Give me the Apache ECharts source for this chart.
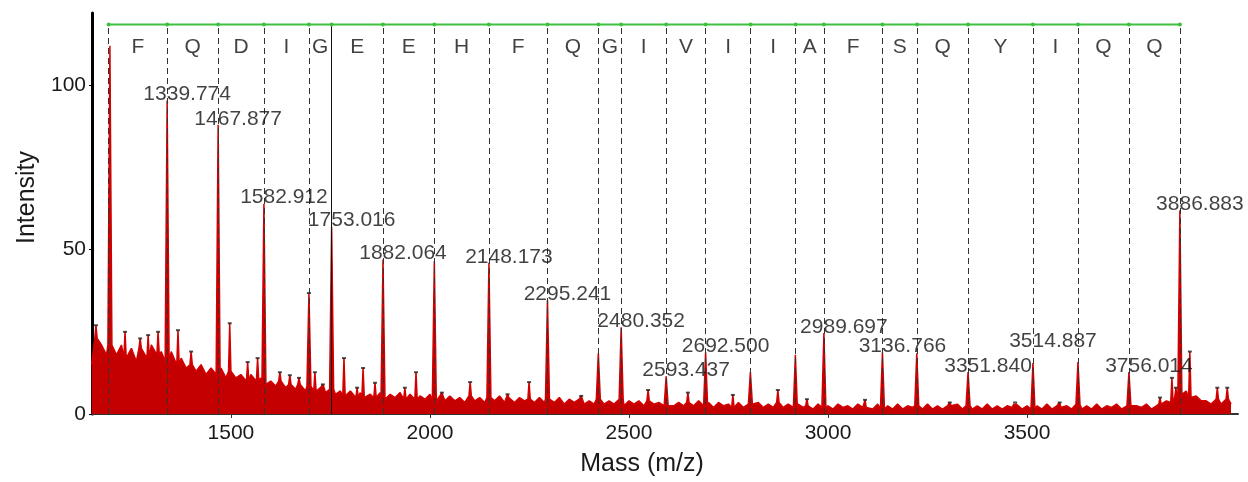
<!DOCTYPE html>
<html><head><meta charset="utf-8">
<script src="https://cdn.jsdelivr.net/npm/echarts@6/dist/echarts.min.js"></script>
<style>html,body{margin:0;padding:0;background:#fff}#c{width:1248px;height:482px}</style>
</head><body><div id="c"></div>
<script>
// ---------------- data ----------------
const xTickValues = [1500, 2000, 2500, 3000, 3500];
const yTickValues = [0, 50, 100];

// noise floor read every 12.5 m/z starting at 1150
const baselineStart = 1150, baselineStep = 12.5;
const baseline = [
 15,23,21,18,21,18,21,17,20,16,20,17,21,18,19,16,19,15,17,14,
 15,13,15,12,14,12,14,11,13,11,12,10,12,10,11,9,10,8.5,10,8,
 9,7.5,9,7,8.5,7,8,6.5,7.5,6,7,5.5,7,5,6.5,5,6,5,6.5,4.5,
 6,5,6.5,4.5,6,4.5,5.5,4.5,6,4,5.5,4,5.5,4,5,3.5,5.5,4,5,3.5,
 5,4,5.5,3.5,5,3.5,5,4,4.5,3.5,5,3.5,4.5,3.5,5,3,4.5,3.5,4.5,3,
 4,3,4.5,3,4,3,4.5,2.5,4,3,4,2.5,4,3,3.5,2.5,4,2.5,3.5,2.5,
 3.5,2.5,4,2.5,3.5,2,3.5,2.5,3,2,3.5,2,3,2.5,3.5,2,3,2,3.5,2,
 3,2,3,2,2.5,1.5,3,2,2.5,1.5,3,2,2.5,1.5,3,2,2.5,1.5,3,1.5,
 2.5,1.5,3,1.5,2.5,2,2.5,1.5,3,1.5,2.5,1.5,2.5,2,3,1.5,2.5,1.5,2.5,1.5,
 3,1.5,2.5,1.5,2.5,2,3,1.5,2.5,1.5,2.5,1.5,3,1.5,2.5,2,2.5,1.5,3,1.5,
 2.5,1.5,3,1.5,2.5,2,3,1.5,2.5,1.5,2.5,2,3,1.5,2.5,3,4,3.5,5,6,
 7,5,5.5,4,4,3,4.5,3,4.5,3
];

// main fragment peaks
const majorPeakMz  = [1196, 1339.774, 1467.877, 1582.912, 1696, 1753.016, 1882.064, 2011, 2148.173, 2295.241, 2423, 2480.352, 2593.437, 2692.500, 2805, 2918, 2989.697, 3136.766, 3223, 3351.840, 3514.887, 3628, 3756.014, 3884];
const majorPeakInt = [112, 95.4, 88, 64, 36.8, 57, 47, 46.5, 46, 34.7, 18.5, 26.4, 11.5, 18.8, 12.8, 18, 24.6, 18.8, 18.5, 12.8, 15.5, 15.8, 12.8, 62];
const peakLabels   = ['', '1339.774', '1467.877', '1582.912', '', '1753.016', '1882.064', '', '2148.173', '2295.241', '', '2480.352', '2593.437', '2692.500', '', '', '2989.697', '3136.766', '', '3351.840', '3514.887', '', '3756.014', '3886.883'];

// smaller peaks in the noise
const minorPeakMz  = [1161, 1234, 1272, 1292, 1317, 1367, 1400, 1497, 1542, 1567, 1623, 1648, 1671, 1711, 1731, 1784, 1817, 1832, 1862, 1937, 1965, 2030, 2101, 2195, 2249, 2380, 2548, 2648, 2761, 2874, 2947, 3093, 3306, 3470, 3582, 3834, 3864, 3874, 3909, 3978, 4003];
const minorPeakInt = [27, 25, 23, 24, 25, 25.5, 19, 27.6, 15.8, 17, 12.7, 11.8, 11, 12.7, 9, 17, 8, 14, 9.5, 8, 12.7, 6.5, 9.7, 6, 9.7, 5.5, 7.3, 6.5, 5.8, 7.3, 4.5, 4.3, 3.5, 3.5, 3.5, 5, 11, 8, 19, 8, 8];

// sequence ladder
const ladderMz = [1192.7, 1339.774, 1467.877, 1582.912, 1696.0, 1753.016, 1882.064, 2011.1, 2148.173, 2295.241, 2423.3, 2480.352, 2593.437, 2692.500, 2805.6, 2918.7, 2989.697, 3136.766, 3223.8, 3351.840, 3514.887, 3628.0, 3756.014, 3884.1];
const ladderResidues = ['F','Q','D','I','G','E','E','H','F','Q','G','I','V','I','I','A','F','S','Q','Y','I','Q','Q'];
const solidBoundaryMz = [1753.016];

// ---------------- layout ----------------
const LADDER_Y = 118.5, LETTER_Y = 111.5;
const FONT = "'Liberation Sans', Arial, sans-serif";
const RED = '#c40000';

function baseAt(m){
  let i = Math.round((m - baselineStart) / baselineStep);
  i = Math.max(0, Math.min(baseline.length - 1, i));
  return baseline[i];
}
const peaks = majorPeakMz.map((m,i)=>[m, majorPeakInt[i], 5])
  .concat(minorPeakMz.map((m,i)=>[m, minorPeakInt[i], 3]));
let pts = baseline.map((v,i)=>[baselineStart + i*baselineStep, v])
  .filter(p => !peaks.some(q => Math.abs(q[0]-p[0]) < q[2] + 2));
peaks.forEach(([m,h,w])=>{ const b = baseAt(m); pts.push([m-w,b],[m,h],[m+w,b]); });
pts.sort((a,b)=>a[0]-b[0]);

const labelData = [];
majorPeakMz.forEach((m,i)=>{
  if (!peakLabels[i]) return;
  const item = {value:[m, majorPeakInt[i]], name: peakLabels[i]};
  if (peakLabels[i] === '3514.887') item.label = {offset:[20,-22]};
  labelData.push(item);
});

const letterData = ladderResidues.map((r,i)=>({value:[(ladderMz[i]+ladderMz[i+1])/2, LETTER_Y], name:r}));

const markerData = minorPeakMz.map((m,i)=>[m, minorPeakInt[i]]).concat([[1696, 36.8]]);

const boundaryLines = ladderMz.map(m=>{
  const solid = solidBoundaryMz.includes(m);
  return [{coord:[m,0], lineStyle: solid ? {type:'solid', color:'#111', width:1} : undefined},
          {coord:[m,LADDER_Y]}];
});

const chart = echarts.init(document.getElementById('c'), null, {renderer:'canvas'});
chart.setOption({
  animation:false,
  backgroundColor:'#fff',
  textStyle:{fontFamily:FONT},
  grid:{left:92, right:10, top:13, bottom:67},
  xAxis:{
    type:'value', min:1151, max:4030,
    axisLine:{show:true, onZero:false, lineStyle:{color:'#333', width:2}},
    axisTick:{show:true, length:4, customValues:xTickValues, lineStyle:{color:'#333'}},
    axisLabel:{customValues:xTickValues, formatter:v=>String(v), fontSize:21, color:'#1a1a1a', margin:9, fontFamily:FONT},
    splitLine:{show:false},
    name:'Mass (m/z)', nameLocation:'middle', nameGap:38,
    nameTextStyle:{fontSize:25, color:'#1a1a1a', fontFamily:FONT, padding:[0,46,0,0]}
  },
  yAxis:{
    type:'value', min:0, max:122,
    axisLine:{show:true, lineStyle:{color:'#000', width:3}},
    axisTick:{show:true, length:3, customValues:yTickValues, lineStyle:{color:'#000'}},
    axisLabel:{customValues:yTickValues, formatter:v=>String(v), fontSize:21, color:'#1a1a1a', margin:6, fontFamily:FONT},
    splitLine:{show:false},
    name:'Intensity', nameLocation:'middle', nameGap:50,
    nameTextStyle:{fontSize:25, color:'#1a1a1a', fontFamily:FONT, padding:[0,0,0,32]}
  },
  series:[
    {
      type:'line', data:pts, symbol:'none', sampling:'none', z:2,
      lineStyle:{color:'#d20000', width:1.5}, areaStyle:{color:RED, opacity:1}
    },
    {
      type:'scatter', data:markerData, symbol:'rect', symbolSize:[4,2], z:4,
      itemStyle:{color:'#222'}
    },
    {
      type:'line', z:5, data:ladderMz.map(m=>[m, LADDER_Y]),
      symbol:'circle', symbolSize:4, showSymbol:true,
      lineStyle:{color:'#3fbf3f', width:2}, itemStyle:{color:'#3fbf3f'},
      markLine:{silent:true, symbol:['none','none'], label:{show:false},
        lineStyle:{type:[6,4], color:'#333', width:1},
        data:boundaryLines}
    },
    {
      type:'scatter', z:6, data:letterData, symbolSize:1, itemStyle:{color:'rgba(0,0,0,0)'},
      label:{show:true, position:'inside', formatter:'{b}', fontSize:21, color:'#111', fontFamily:FONT}
    },
    {
      type:'scatter', z:7, data:labelData, symbolSize:1, itemStyle:{color:'rgba(0,0,0,0)'},
      label:{show:true, position:'inside', offset:[20,-6], formatter:'{b}', fontSize:21, color:'#111', fontFamily:FONT}
    }
  ]
});
</script></body></html>
